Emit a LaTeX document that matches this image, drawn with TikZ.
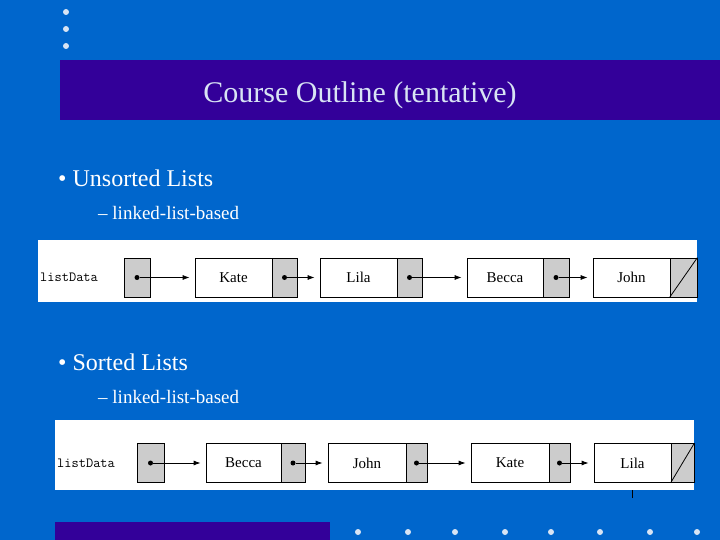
\documentclass[tikz,border=0pt]{standalone}
\usepackage{fontspec}
\setmainfont{Liberation Serif}
\usetikzlibrary{arrows.meta}
\definecolor{bg}{HTML}{0066CC}
\definecolor{bar}{HTML}{330099}
\definecolor{cellgray}{HTML}{CCCCCC}
\definecolor{dotc}{HTML}{D8E4F4}
\tikzset{
  datacell/.style={draw=black,fill=white,line width=0.8pt,minimum height=39pt,inner sep=0pt,font=\fontsize{15}{15}\selectfont},
  ptrcell/.style={draw=black,fill=cellgray,line width=0.8pt,minimum height=39pt,minimum width=26pt,inner sep=0pt},
  link/.style={line width=0.8pt,-{Latex[length=7pt,width=5pt]}},
  pdot/.style={circle,fill=black,inner sep=0pt,minimum size=5pt},
  sdot/.style={circle,fill=dotc,inner sep=0pt,minimum size=6pt},
  ltxt/.style={font=\ttfamily\fontsize{14}{14}\selectfont,anchor=west,inner sep=0pt},
  btxt/.style={text=white,anchor=west,inner sep=0pt}
}
\begin{document}
\begin{tikzpicture}[x=1pt,y=-1pt]
\useasboundingbox (0,0) rectangle (720,540);
\fill[bg] (0,0) rectangle (720,540);
\foreach \yy [count=\i] in {12,29,46} \node[sdot] (td\i) at (66,\yy) {};
\fill[bar] (60,60) rectangle (720,120);
\node[text=dotc,font=\fontsize{30}{30}\selectfont] (title) at (360,95) {Course Outline (tentative)};
\node[btxt,font=\fontsize{24}{24}\selectfont] (b1) at (58,178) {\textbullet\ Unsorted Lists};
\node[btxt,font=\fontsize{19}{19}\selectfont] (s1) at (98,213) {-- linked-list-based};
\node[btxt,font=\fontsize{24}{24}\selectfont] (b2) at (58,362) {\textbullet\ Sorted Lists};
\node[btxt,font=\fontsize{19}{19}\selectfont] (s2) at (98,397) {-- linked-list-based};
% panel 1
\fill[white] (38,240) rectangle (697,302);
\node[ltxt] (ld1) at (40,277.5) {listData};
\node[ptrcell] (h1) at (137,277.5) {};
\node[datacell,minimum width=77pt] (a1) at (233.5,277.5) {Kate};
\node[ptrcell,minimum width=25pt] (ap1) at (284.5,277.5) {};
\node[datacell,minimum width=77pt] (a2) at (358.5,277.5) {Lila};
\node[ptrcell,minimum width=25pt] (ap2) at (409.5,277.5) {};
\node[datacell,minimum width=76pt] (a3) at (505,277.5) {Becca};
\node[ptrcell,minimum width=26pt] (ap3) at (556,277.5) {};
\node[datacell,minimum width=77pt] (a4) at (631.5,277.5) {John};
\node[ptrcell,minimum width=27pt] (ap4) at (683.5,277.5) {};
\draw[line width=0.8pt] (ap4.south west) -- (ap4.north east);
\foreach \s/\t in {h1/a1,ap1/a2,ap2/a3,ap3/a4}{
  \node[pdot] (d\s) at (\s) {};
  \draw[link] (d\s) -- ([xshift=-5pt]\t.west);
}
% panel 2
\fill[white] (55,420) rectangle (694,490);
\node[ltxt] (ld2) at (57,463) {listData};
\node[ptrcell,minimum width=27pt] (h2) at (150.5,463) {};
\node[datacell,minimum width=75pt] (c1) at (243.5,463) {Becca};
\node[ptrcell,minimum width=24pt] (cp1) at (293,463) {};
\node[datacell,minimum width=78pt] (c2) at (367,463) {John};
\node[ptrcell,minimum width=21pt] (cp2) at (416.5,463) {};
\node[datacell,minimum width=78pt] (c3) at (510,463) {Kate};
\node[ptrcell,minimum width=21pt] (cp3) at (559.5,463) {};
\node[datacell,minimum width=77pt] (c4) at (632.5,463) {Lila};
\node[ptrcell,minimum width=23pt] (cp4) at (682.5,463) {};
\draw[line width=0.8pt] (cp4.south west) -- (cp4.north east);
\foreach \s/\t in {h2/c1,cp1/c2,cp2/c3,cp3/c4}{
  \node[pdot] (d\s) at (\s) {};
  \draw[link] (d\s) -- ([xshift=-5pt]\t.west);
}
\coordinate (tk) at (632,490);
\draw[line width=0.6pt] ([yshift=-8pt]tk) -- (tk);
% bottom
\fill[bar] (55,522) rectangle (330,540);
\foreach \xx [count=\i] in {358,408,455,505,551,600,650,697} \node[sdot] (bd\i) at (\xx,532) {};
\end{tikzpicture}
\end{document}
